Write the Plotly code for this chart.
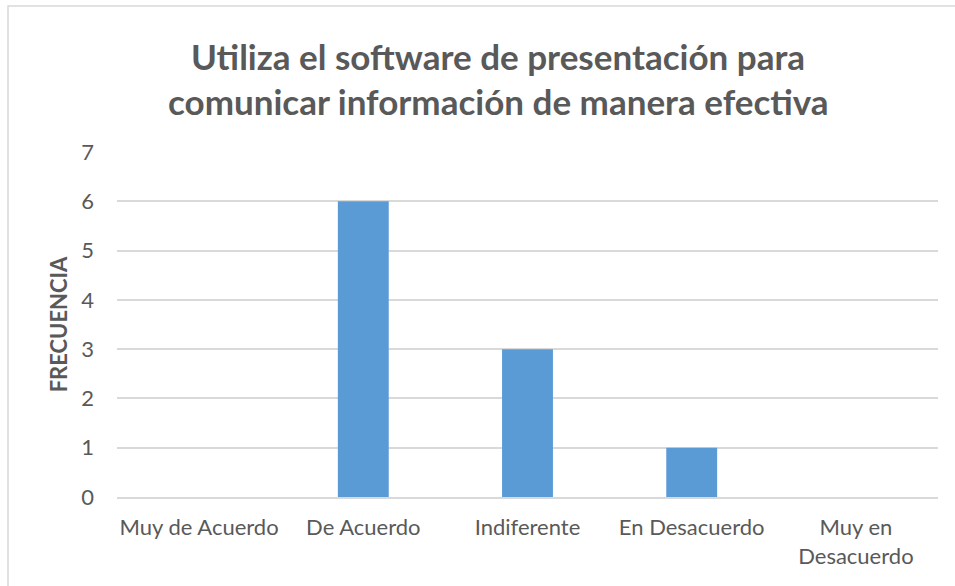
import plotly.graph_objects as go

categories = ["Muy de Acuerdo", "De Acuerdo", "Indiferente", "En Desacuerdo", "Muy en<br>Desacuerdo"]
values = [0, 6, 3, 1, 0]
y_ticks = [0, 1, 2, 3, 4, 5, 6, 7]
title_lines = ["Utiliza el software de presentación para", "comunicar información de manera efectiva"]

GRAY = "#595959"
FONT = "Lato"

L, R, T, B = 117, 938, 152, 497
PW, PH = R - L, B - T

fig = go.Figure(go.Bar(x=categories, y=values, marker=dict(color="#5B9BD5", line=dict(width=0)), width=0.31))

fig.update_layout(
    width=955, height=586,
    margin=dict(l=L, r=955 - R, t=T, b=586 - B),
    paper_bgcolor="white", plot_bgcolor="white",
    showlegend=False,
    font=dict(family=FONT, color=GRAY, size=22),
)
fig.update_xaxes(showgrid=False, showline=True, linecolor="#D9D9D9", linewidth=1.5,
                 ticks="", tickfont=dict(size=22, color=GRAY, family=FONT), ticklabelstandoff=10)
fig.update_yaxes(range=[0, 7], tickvals=y_ticks, showgrid=True, gridcolor="#D9D9D9", gridwidth=1.5,
                 zeroline=False, showline=False, ticks="", ticklabelstandoff=22,
                 tickfont=dict(size=22, color=GRAY, family=FONT),
                 title=dict(text="<b>FRECUENCIA</b>", font=dict(size=22, color=GRAY, family=FONT), standoff=7))

for i, line in enumerate(title_lines):
    fig.add_annotation(text=f"<b>{line}</b>", xref="paper", yref="paper", x=(498 - L) / PW,
                       y=(B - (56 + 45 * i)) / PH,
                       xanchor="center", yanchor="middle", showarrow=False,
                       font=dict(size=35, color=GRAY, family=FONT))

# outer chart border (left/top visible)
fig.add_shape(type="rect", xref="paper", yref="paper",
              x0=(8 - L) / PW, x1=(960 - L) / PW,
              y0=(B - 590) / PH, y1=(B - 6) / PH,
              line=dict(color="#D9D9D9", width=1.5), fillcolor="rgba(0,0,0,0)", layer="below")

fig.write_html("out.html", config={"displayModeBar": False},
               post_script="document.body.style.margin='0';document.body.style.overflow='hidden';")
